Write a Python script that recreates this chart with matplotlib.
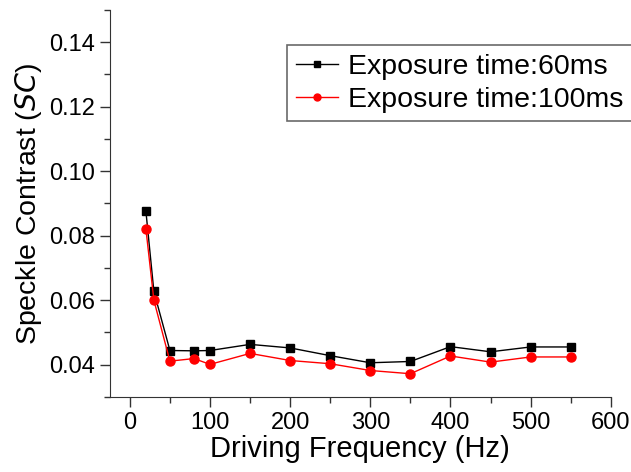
import numpy as np
import matplotlib.pyplot as plt
from matplotlib.ticker import MultipleLocator

plt.rcParams['font.family'] = ['Liberation Sans', 'DejaVu Sans']

# driving frequency (Hz) and speckle contrast for both exposure times
freq = [20, 30, 50, 80, 100, 150, 200, 250, 300, 350, 400, 450, 500, 550]
sc_60ms = [0.0877, 0.0627, 0.0444, 0.0443, 0.0444, 0.0463, 0.0452, 0.0428,
           0.0406, 0.0410, 0.0456, 0.0440, 0.0455, 0.0455]
sc_100ms = [0.0822, 0.0600, 0.0411, 0.0419, 0.0401, 0.0435, 0.0413, 0.0403,
            0.0382, 0.0372, 0.0427, 0.0408, 0.0424, 0.0424]

fig = plt.figure(figsize=(6.31, 4.72), dpi=100)
ax = fig.add_axes([0.174, 0.159, 0.794, 0.820])

ax.plot(freq, sc_60ms, '-s', color='black', lw=1, ms=6, label='Exposure time:60ms')
ax.plot(freq, sc_100ms, '-o', color='red', lw=1, ms=6.5, label='Exposure time:100ms')

ax.set_xlim(-25, 600)
ax.set_ylim(0.03, 0.15)
ax.xaxis.set_major_locator(MultipleLocator(100))
ax.xaxis.set_minor_locator(MultipleLocator(50))
ax.yaxis.set_minor_locator(MultipleLocator(0.01))
ax.set_yticks([0.04, 0.06, 0.08, 0.10, 0.12, 0.14])
ax.yaxis.set_major_formatter(plt.FormatStrFormatter('%.2f'))

ax.spines['top'].set_visible(False)
ax.spines['right'].set_visible(False)
ax.spines['left'].set_color('#333333')
ax.spines['bottom'].set_color('#333333')
ax.tick_params(which='major', direction='out', length=7, width=1, labelsize=17, color='#333333')
ax.tick_params(which='minor', direction='out', length=4, width=1, color='#333333')

ax.set_xlabel('Driving Frequency (Hz)', fontsize=21, labelpad=1)
ax.set_ylabel('Speckle Contrast ($\\it{SC}$)', fontsize=20.5, labelpad=4)

leg = fig.legend(loc='upper left', bbox_to_anchor=(287 / 631, 1 - 45 / 472),
                 fontsize=20.5, frameon=True, fancybox=False, edgecolor='#444444',
                 handlelength=1.5, handletextpad=0.35, borderpad=0.3,
                 labelspacing=0.25, borderaxespad=0)
leg.get_frame().set_linewidth(1.2)
for h in leg.legend_handles:
    h.set_markersize(5)

fig.savefig('out.png', dpi=100)
